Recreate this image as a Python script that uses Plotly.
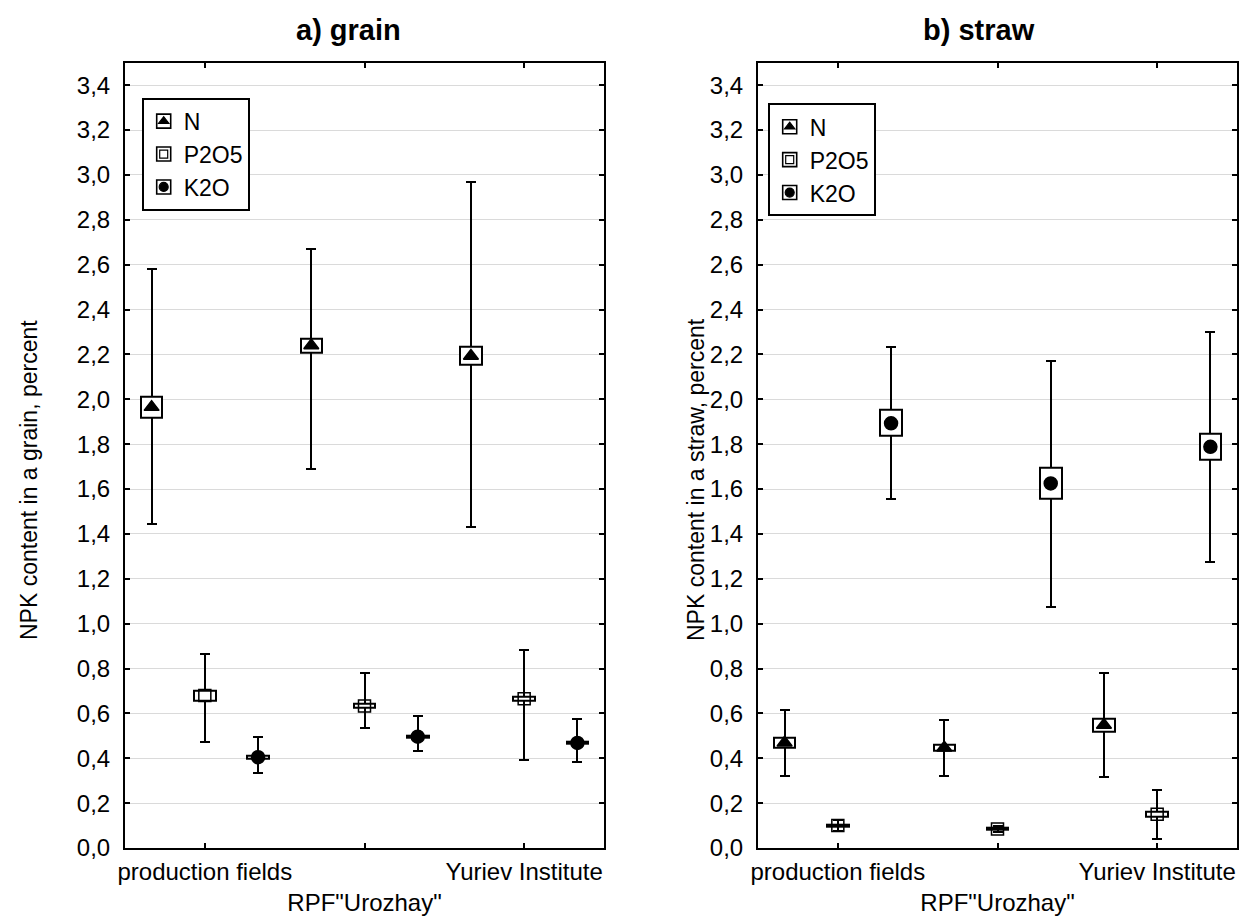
import plotly.graph_objects as go

# ---------------- data ----------------
categories = ["production fields", 'RPF"Urozhay"', "Yuriev Institute"]
elements = ["N", "P2O5", "K2O"]
y_ticks = [0.0, 0.2, 0.4, 0.6, 0.8, 1.0, 1.2, 1.4, 1.6, 1.8, 2.0, 2.2, 2.4, 2.6, 2.8, 3.0, 3.2, 3.4]
y_ticklabels = ["0,0", "0,2", "0,4", "0,6", "0,8", "1,0", "1,2", "1,4", "1,6", "1,8",
                "2,0", "2,2", "2,4", "2,6", "2,8", "3,0", "3,2", "3,4"]

# rows: N, P2O5, K2O ; columns: categories
grain_mean   = [[1.965, 2.240, 2.193], [0.680, 0.633, 0.665], [0.405, 0.496, 0.468]]
grain_box_lo = [[1.920, 2.209, 2.152], [0.656, 0.625, 0.655], [0.399, 0.491, 0.463]]
grain_box_hi = [[2.012, 2.271, 2.234], [0.700, 0.641, 0.675], [0.411, 0.501, 0.473]]
grain_wh_lo  = [[1.442, 1.688, 1.432], [0.472, 0.533, 0.392], [0.333, 0.434, 0.382]]
grain_wh_hi  = [[2.580, 2.669, 2.969], [0.863, 0.781, 0.882], [0.493, 0.587, 0.574]]

straw_mean   = [[0.469, 0.447, 0.548], [0.100, 0.085, 0.150], [1.893, 1.625, 1.788]]
straw_box_lo = [[0.445, 0.432, 0.520], [0.094, 0.080, 0.140], [1.836, 1.555, 1.729]]
straw_box_hi = [[0.492, 0.462, 0.575], [0.106, 0.090, 0.162], [1.952, 1.695, 1.848]]
straw_wh_lo  = [[0.323, 0.323, 0.316], [0.075, 0.070, 0.041], [1.555, 1.075, 1.275]]
straw_wh_hi  = [[0.617, 0.572, 0.781], [0.125, 0.100, 0.258], [2.234, 2.172, 2.299]]

panel_titles = ["a) grain", "b) straw"]
y_titles = ["NPK content in a grain, percent", "NPK content in a straw, percent"]

# ---------------- styling ----------------
W, H = 1247, 917
FONT = "Liberation Sans, Arial, sans-serif"
offsets = [-1/3, 0.0, 1/3]
symbols = ["triangle-up", "square-open", "circle"]
sizes = [13, 12, 13]
legend_sizes = [9, 8, 9]

fig = go.Figure()

panels = [
    dict(mean=grain_mean, blo=grain_box_lo, bhi=grain_box_hi, wlo=grain_wh_lo, whi=grain_wh_hi,
         xa="x", ya="y", leg_box="legend", leg_mk="legend2"),
    dict(mean=straw_mean, blo=straw_box_lo, bhi=straw_box_hi, wlo=straw_wh_lo, whi=straw_wh_hi,
         xa="x2", ya="y2", leg_box="legend3", leg_mk="legend4"),
]

for p in panels:
    # whiskers (drawn first, under boxes)
    for e in range(3):
        xs = [i + offsets[e] for i in range(len(categories))]
        m = p["mean"][e]
        fig.add_trace(go.Bar(
            x=xs, y=m, width=0.02, xaxis=p["xa"], yaxis=p["ya"],
            marker=dict(color="rgba(0,0,0,0)", line=dict(width=0)),
            error_y=dict(type="data", symmetric=False,
                         array=[h - v for h, v in zip(p["whi"][e], m)],
                         arrayminus=[v - l for v, l in zip(m, p["wlo"][e])],
                         color="black", thickness=2, width=5),
            showlegend=False, hoverinfo="skip"))
    # boxes
    for e in range(3):
        xs = [i + offsets[e] for i in range(len(categories))]
        fig.add_trace(go.Bar(
            x=xs, y=[h - l for h, l in zip(p["bhi"][e], p["blo"][e])], base=p["blo"][e],
            width=0.135, xaxis=p["xa"], yaxis=p["ya"],
            marker=dict(color="white", line=dict(color="black", width=2)),
            showlegend=False))
    # mean markers
    for e in range(3):
        xs = [i + offsets[e] for i in range(len(categories))]
        fig.add_trace(go.Scatter(
            x=xs, y=p["mean"][e], mode="markers", xaxis=p["xa"], yaxis=p["ya"],
            marker=dict(symbol=symbols[e], size=sizes[e], color="black",
                        line=dict(color="black", width=1.5)),
            showlegend=False))
    # legend: box icons (below) and marker icons (on top)
    for e in range(3):
        fig.add_trace(go.Scatter(
            x=[None], y=[None], mode="markers", xaxis=p["xa"], yaxis=p["ya"],
            marker=dict(symbol="square", size=14, color="white",
                        line=dict(color="black", width=1.6)),
            name=elements[e], legend=p["leg_box"], showlegend=True))
    for e in range(3):
        fig.add_trace(go.Scatter(
            x=[None], y=[None], mode="markers", xaxis=p["xa"], yaxis=p["ya"],
            marker=dict(symbol=symbols[e], size=legend_sizes[e], color="black",
                        line=dict(color="black", width=1.2)),
            name=elements[e], legend=p["leg_mk"], showlegend=True))

ticktext_x = [c if i % 2 == 0 else "<br>" + c for i, c in enumerate(categories)]

def xaxis(domain, anchor):
    return dict(domain=domain, range=[-0.5, 2.5], anchor=anchor, tickmode="array",
                tickvals=list(range(len(categories))), ticktext=ticktext_x, tickangle=0,
                showgrid=False, zeroline=False, showline=True, linecolor="black",
                linewidth=2, mirror="ticks", ticks="inside", ticklen=5, tickwidth=1.5,
                tickcolor="black", tickfont=dict(family=FONT, size=24, color="black"),
                ticklabelstandoff=1, automargin=False, fixedrange=True)

def yaxis(anchor):
    return dict(domain=[1 - 848 / H, 1 - 62.7 / H], range=[0, 3.5], anchor=anchor,
                tickmode="array", tickvals=y_ticks, ticktext=y_ticklabels,
                showgrid=True, gridcolor="#dadada", gridwidth=1, zeroline=False,
                showline=True, linecolor="black", linewidth=2, mirror="ticks",
                ticks="inside", ticklen=5, tickwidth=1.5, tickcolor="black",
                tickfont=dict(family=FONT, size=24, color="black"),
                ticklabelstandoff=8, automargin=False, fixedrange=True)

def leg_box(x, y):
    return dict(x=x / W, y=1 - y / H, xanchor="left", yanchor="top",
                bgcolor="white", bordercolor="black", borderwidth=2,
                font=dict(family=FONT, size=23, color="black"),
                tracegroupgap=0, itemclick=False, itemdoubleclick=False)

def leg_mk(x, y):
    return dict(x=x / W, y=1 - y / H, xanchor="left", yanchor="top",
                bgcolor="rgba(0,0,0,0)", bordercolor="rgba(0,0,0,0)", borderwidth=2,
                font=dict(family=FONT, size=23, color="rgba(0,0,0,0)"),
                tracegroupgap=0, itemclick=False, itemdoubleclick=False)

annotations = []
title_x = [348, 979]
ytitle_x = [29, 696]
for k in range(2):
    annotations.append(dict(text="<b>" + panel_titles[k] + "</b>", x=title_x[k] / W, y=1 - 30 / H,
                            xref="paper", yref="paper", showarrow=False,
                            font=dict(family=FONT, size=29, color="black"),
                            xanchor="center", yanchor="middle"))
    annotations.append(dict(text=y_titles[k], x=ytitle_x[k] / W, y=1 - 480 / H,
                            xref="paper", yref="paper", showarrow=False, textangle=-90,
                            font=dict(family=FONT, size=23, color="black"),
                            xanchor="center", yanchor="middle"))

fig.update_layout(
    width=W, height=H, margin=dict(l=0, r=0, t=0, b=0, autoexpand=False),
    paper_bgcolor="white", plot_bgcolor="white",
    barmode="overlay", bargap=0,
    xaxis=xaxis([125 / W, 604 / W], "y"), yaxis=yaxis("x"),
    xaxis2=xaxis([758 / W, 1237 / W], "y2"), yaxis2=yaxis("x2"),
    legend=leg_box(141.7, 97.7), legend2=leg_mk(141.7, 97.7),
    legend3=leg_box(767.7, 103.3), legend4=leg_mk(767.7, 103.3),
    annotations=annotations,
    font=dict(family=FONT, color="black"),
)

fig.write_html("out.html", config={"displayModeBar": False},
               post_script="document.body.style.margin='0';document.body.style.overflow='hidden';")
